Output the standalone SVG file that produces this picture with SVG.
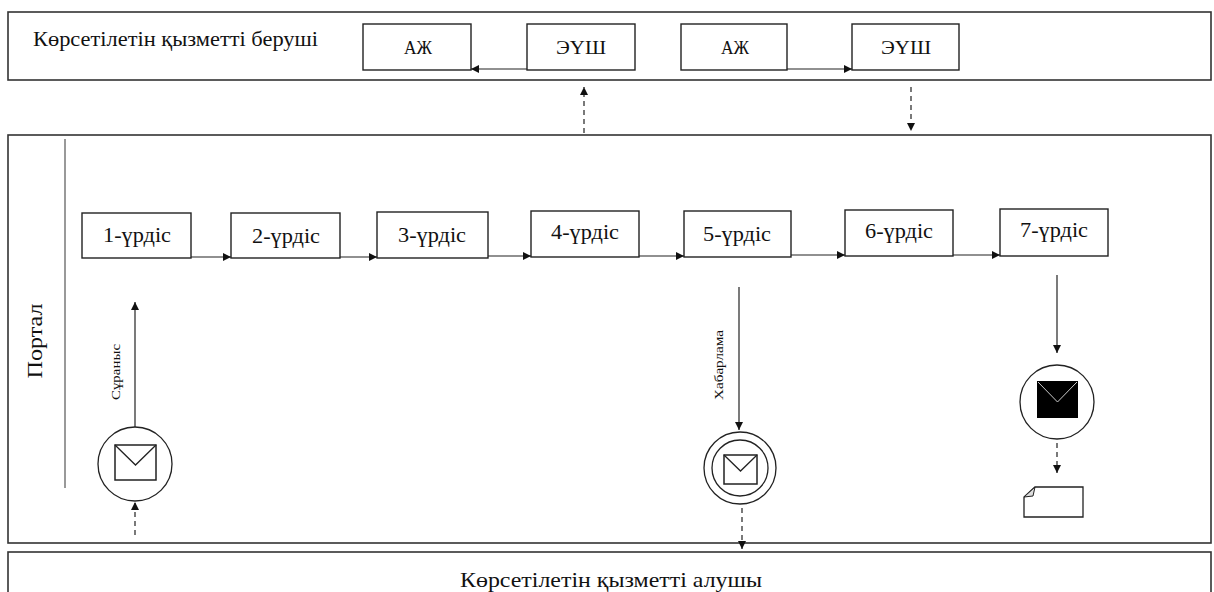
<svg xmlns="http://www.w3.org/2000/svg" width="1214" height="592" viewBox="0 0 1214 592">
<style>
.lane{fill:#fff;stroke:#333;stroke-width:1.6}
.box{fill:#fff;stroke:#222;stroke-width:1.4}
.t{font-family:"Liberation Serif","Times New Roman","DejaVu Serif",serif;fill:#111}
.c{stroke:#222;stroke-width:1.2;fill:none}
.d{stroke:#222;stroke-width:1.2;fill:none;stroke-dasharray:5 4}
</style>
<defs>
<marker id="ah" viewBox="0 0 10 10" refX="10" refY="5" markerWidth="8" markerHeight="8" markerUnits="userSpaceOnUse" orient="auto"><path d="M0,0 L10,5 L0,10 z" fill="#111"/></marker>
</defs>
<rect width="1214" height="592" fill="#fff"/>
<g id="lane-provider">
<rect class="lane" x="8" y="12" width="1203" height="68"/>
<text class="t" x="33" y="46" font-size="21" textLength="285" lengthAdjust="spacingAndGlyphs">Көрсетілетін қызметті беруші</text>
</g>
<g id="lane-portal">
<rect class="lane" x="8" y="135" width="1203" height="408"/>
<line x1="65" y1="139" x2="65" y2="488" stroke="#777" stroke-width="1.5"/>
<text class="t" x="0" y="0" font-size="22" text-anchor="middle" textLength="75" lengthAdjust="spacingAndGlyphs" transform="translate(42,341) rotate(-90)">Портал</text>
</g>
<g id="lane-receiver">
<rect class="lane" x="8" y="552" width="1203" height="50"/>
<text class="t" x="611" y="587" font-size="21" text-anchor="middle" textLength="302" lengthAdjust="spacingAndGlyphs">Көрсетілетін қызметті алушы</text>
</g>
<g id="aj1"><rect class="box" x="363" y="24" width="108" height="46"/><text class="t" x="418" y="54" font-size="19" text-anchor="middle" textLength="28" lengthAdjust="spacingAndGlyphs">АЖ</text></g>
<g id="eush1"><rect class="box" x="527" y="24" width="108" height="46"/><text class="t" x="581" y="54" font-size="19" text-anchor="middle" textLength="50" lengthAdjust="spacingAndGlyphs">ЭҮШ</text></g>
<g id="aj2"><rect class="box" x="681" y="24" width="106" height="46"/><text class="t" x="735" y="54" font-size="19" text-anchor="middle" textLength="28" lengthAdjust="spacingAndGlyphs">АЖ</text></g>
<g id="eush2"><rect class="box" x="852" y="24" width="107" height="46"/><text class="t" x="906" y="54" font-size="19" text-anchor="middle" textLength="50" lengthAdjust="spacingAndGlyphs">ЭҮШ</text></g>
<g id="p1"><rect class="box" x="82" y="213" width="109" height="45"/><text class="t" x="137" y="242" font-size="21" text-anchor="middle" textLength="68" lengthAdjust="spacingAndGlyphs">1-үрдіс</text></g>
<g id="p2"><rect class="box" x="231" y="213" width="109" height="45"/><text class="t" x="286" y="243" font-size="21" text-anchor="middle" textLength="68" lengthAdjust="spacingAndGlyphs">2-үрдіс</text></g>
<g id="p3"><rect class="box" x="377" y="212" width="111" height="46"/><text class="t" x="432" y="242" font-size="21" text-anchor="middle" textLength="68" lengthAdjust="spacingAndGlyphs">3-үрдіс</text></g>
<g id="p4"><rect class="box" x="531" y="211" width="108" height="46"/><text class="t" x="585" y="239" font-size="21" text-anchor="middle" textLength="68" lengthAdjust="spacingAndGlyphs">4-үрдіс</text></g>
<g id="p5"><rect class="box" x="684" y="211" width="107" height="46"/><text class="t" x="737" y="241" font-size="21" text-anchor="middle" textLength="68" lengthAdjust="spacingAndGlyphs">5-үрдіс</text></g>
<g id="p6"><rect class="box" x="845" y="210" width="108" height="46"/><text class="t" x="899" y="238" font-size="21" text-anchor="middle" textLength="68" lengthAdjust="spacingAndGlyphs">6-үрдіс</text></g>
<g id="p7"><rect class="box" x="1000" y="209" width="108" height="47"/><text class="t" x="1054" y="237" font-size="21" text-anchor="middle" textLength="68" lengthAdjust="spacingAndGlyphs">7-үрдіс</text></g>
<g id="start-event">
<circle cx="135" cy="464" r="37" fill="#fff" stroke="#222" stroke-width="1.3"/>
<rect x="115" y="445" width="41" height="35" fill="#fff" stroke="#222" stroke-width="1.5"/>
<path d="M115,445 L135.5,465 L156,445" fill="none" stroke="#222" stroke-width="1.3"/>
</g>
<g id="intermediate-event">
<circle cx="740" cy="468" r="36" fill="#fff" stroke="#222" stroke-width="1.3"/>
<circle cx="740" cy="468" r="28" fill="#fff" stroke="#222" stroke-width="1.3"/>
<rect x="724" y="455" width="33" height="29" fill="#fff" stroke="#222" stroke-width="1.5"/>
<path d="M724,455 L740.5,471 L757,455" fill="none" stroke="#222" stroke-width="1.3"/>
</g>
<g id="end-event">
<circle cx="1057" cy="402" r="37" fill="#fff" stroke="#222" stroke-width="1.3"/>
<rect x="1037" y="381" width="41" height="37" fill="#000"/>
<path d="M1038,382 L1057.5,402 L1077,382" fill="none" stroke="#ccc" stroke-width="1"/>
</g>
<g id="document">
<path d="M1035,487 L1083,487 L1083,517 L1024,517 L1024,497 Z" fill="#fff" stroke="#222" stroke-width="1.3"/>
<path d="M1024,497 L1035,487 L1033,496 Z" fill="#ddd" stroke="#222" stroke-width="1"/>
</g>
<g id="connectors">
<line class="c" x1="527" y1="69" x2="471" y2="69" marker-end="url(#ah)"/>
<line class="c" x1="787" y1="69" x2="852" y2="69" marker-end="url(#ah)"/>
<line class="d" x1="584" y1="133" x2="584" y2="87" marker-end="url(#ah)"/>
<line class="d" x1="911" y1="87" x2="911" y2="131" marker-end="url(#ah)"/>
<line class="c" x1="191" y1="257" x2="231" y2="257" marker-end="url(#ah)"/>
<line class="c" x1="340" y1="257" x2="377" y2="257" marker-end="url(#ah)"/>
<line class="c" x1="488" y1="256" x2="531" y2="256" marker-end="url(#ah)"/>
<line class="c" x1="639" y1="256" x2="684" y2="256" marker-end="url(#ah)"/>
<line class="c" x1="791" y1="255" x2="845" y2="255" marker-end="url(#ah)"/>
<line class="c" x1="953" y1="255" x2="1000" y2="255" marker-end="url(#ah)"/>
<line class="c" x1="135" y1="427" x2="135" y2="302" marker-end="url(#ah)"/>
<line class="d" x1="135" y1="535" x2="135" y2="502" marker-end="url(#ah)"/>
<line class="c" x1="739" y1="287" x2="739" y2="430" marker-end="url(#ah)"/>
<line class="d" x1="742" y1="508" x2="742" y2="549" marker-end="url(#ah)"/>
<line class="c" x1="1057" y1="275" x2="1057" y2="353" marker-end="url(#ah)"/>
<line class="d" x1="1057" y1="443" x2="1057" y2="473" marker-end="url(#ah)"/>
<text class="t" x="0" y="0" font-size="12" text-anchor="middle" textLength="56" lengthAdjust="spacingAndGlyphs" transform="translate(120,372) rotate(-90)">Сұраныс</text>
<text class="t" x="0" y="0" font-size="12" text-anchor="middle" textLength="70" lengthAdjust="spacingAndGlyphs" transform="translate(723,365) rotate(-90)">Хабарлама</text>
</g>
</svg>
